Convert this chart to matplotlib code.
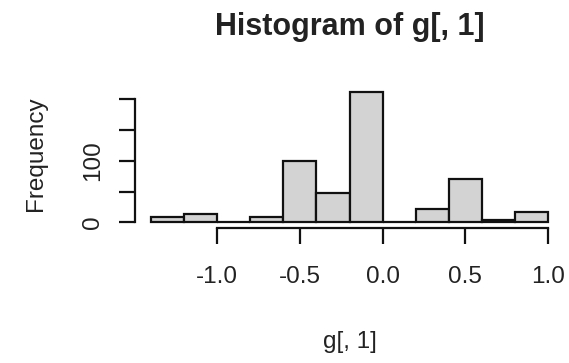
import matplotlib
matplotlib.use("Agg")
import matplotlib.pyplot as plt

plt.rcParams['font.family'] = ['Liberation Sans', 'DejaVu Sans']

# histogram of g[, 1]: bin edges and counts
bin_edges = [-1.4, -1.2, -1.0, -0.8, -0.6, -0.4, -0.2, 0.0, 0.2, 0.4, 0.6, 0.8, 1.0]
counts = [9, 13, 0, 9, 100, 47, 212, 0, 22, 70, 3, 17]
x_ticks = [-1.0, -0.5, 0.0, 0.5, 1.0]
x_tick_labels = ["-1.0", "-0.5", "0.0", "0.5", "1.0"]
y_ticks = [0, 50, 100, 150, 200]
y_tick_labels = ["0", "", "100", "", ""]

W, H = 569, 363
fig = plt.figure(figsize=(W / 100, H / 100), dpi=100)
ax = fig.add_axes([135 / W, (H - 227.5) / H, (564 - 135) / W, (227.5 - 86.7) / H])

widths = [b - a for a, b in zip(bin_edges[:-1], bin_edges[1:])]
ax.bar(bin_edges[:-1], counts, width=widths, align="edge",
       color="#d3d3d3", edgecolor="#111111", linewidth=1.6)

# R-style axis extension of 4%
xr = bin_edges[-1] - bin_edges[0]
ax.set_xlim(bin_edges[0] - 0.04 * xr, bin_edges[-1] + 0.04 * xr)
ymax = max(counts)
ax.set_ylim(-0.04 * ymax, ymax * 1.04)

for s in ("top", "right"):
    ax.spines[s].set_visible(False)
ax.spines["left"].set_bounds(y_ticks[0], y_ticks[-1])
ax.spines["bottom"].set_bounds(x_ticks[0], x_ticks[-1])
for s in ("left", "bottom"):
    ax.spines[s].set_linewidth(1.6)
    ax.spines[s].set_color("#111111")

ax.set_xticks(x_ticks)
ax.set_xticklabels(x_tick_labels)
ax.set_yticks(y_ticks)
ax.set_yticklabels(y_tick_labels, rotation=90, va="center")
ax.tick_params(axis="both", length=11.5, width=1.6, color="#111111",
               labelsize=17.5, labelcolor="#222222")
ax.tick_params(axis="x", pad=16)
ax.tick_params(axis="y", pad=11)

fig.text(349.5 / W, 1 - 27 / H, "Histogram of g[, 1]", ha="center", va="center",
         fontsize=22, fontweight="bold", color="#222222")
fig.text(349.5 / W, 1 - 342 / H, "g[, 1]", ha="center", va="center",
         fontsize=17.5, color="#222222")
fig.text(36 / W, 1 - 154 / H, "Frequency", ha="center", va="center",
         rotation=90, fontsize=17.5, color="#222222")

fig.savefig("out.png", dpi=100)
